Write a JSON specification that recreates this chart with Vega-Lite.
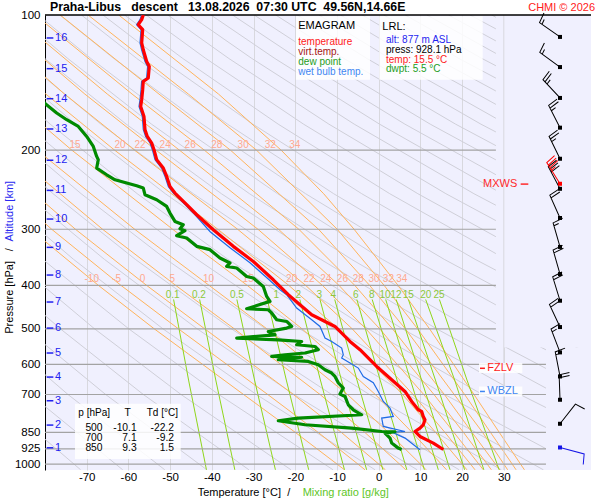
{
"$schema": "https://vega.github.io/schema/vega-lite/v6.json",
"width": 546, "height": 455,
"autosize": "none",
"padding": {"left": 45, "top": 15, "right": 9, "bottom": 30},
"background": "#ffffff",
"config": {"view": {"fill": "#f0f0fe", "stroke": null}, "font": "Liberation Sans"},
"resolve": {"axis": {"x": "independent", "y": "independent"}},
"datasets": {
"dry": [
{"th":200,"t":-71.45,"p":1030},{"th":200,"t":-92.55,"p":700},
{"th":210,"t":-61.37,"p":1030},{"th":210,"t":-83.52,"p":700},
{"th":220,"t":-51.28,"p":1030},{"th":220,"t":-74.49,"p":700},{"th":220,"t":-92.72,"p":500},
{"th":230,"t":-41.2,"p":1030},{"th":230,"t":-65.46,"p":700},{"th":230,"t":-84.55,"p":500},
{"th":240,"t":-31.11,"p":1030},{"th":240,"t":-56.43,"p":700},{"th":240,"t":-76.31,"p":500},{"th":240,"t":-95.4,"p":350},
{"th":250,"t":-21.03,"p":1030},{"th":250,"t":-47.39,"p":700},{"th":250,"t":-68.11,"p":500},{"th":250,"t":-87.99,"p":350},
{"th":260,"t":-10.94,"p":1030},{"th":260,"t":-38.36,"p":700},{"th":260,"t":-59.91,"p":500},{"th":260,"t":-80.58,"p":350},
{"th":270,"t":-0.86,"p":1030},{"th":270,"t":-29.33,"p":700},{"th":270,"t":-51.71,"p":500},{"th":270,"t":-73.17,"p":350},{"th":270,"t":-91.52,"p":250},
{"th":280,"t":9.23,"p":1030},{"th":280,"t":-20.3,"p":700},{"th":280,"t":-43.51,"p":500},{"th":280,"t":-65.77,"p":350},{"th":280,"t":-84.8,"p":250},
{"th":290,"t":19.31,"p":1030},{"th":290,"t":-11.27,"p":700},{"th":290,"t":-35.3,"p":500},{"th":290,"t":-58.36,"p":350},{"th":290,"t":-78.07,"p":250},{"th":290,"t":-96.99,"p":175},
{"th":300,"t":29.4,"p":1030},{"th":300,"t":-2.24,"p":700},{"th":300,"t":-27.1,"p":500},{"th":300,"t":-50.96,"p":350},{"th":300,"t":-71.34,"p":250},{"th":300,"t":-90.92,"p":175},
{"th":310,"t":39.48,"p":1030},{"th":310,"t":6.79,"p":700},{"th":310,"t":-18.9,"p":500},{"th":310,"t":-43.55,"p":350},{"th":310,"t":-64.62,"p":250},{"th":310,"t":-84.84,"p":175},
{"th":320,"t":49.57,"p":1030},{"th":320,"t":15.82,"p":700},{"th":320,"t":-10.7,"p":500},{"th":320,"t":-36.14,"p":350},{"th":320,"t":-57.89,"p":250},{"th":320,"t":-78.77,"p":175},{"th":320,"t":-96.6,"p":125},
{"th":330,"t":59.65,"p":1030},{"th":330,"t":24.85,"p":700},{"th":330,"t":-2.5,"p":500},{"th":330,"t":-28.74,"p":350},{"th":330,"t":-51.16,"p":250},{"th":330,"t":-72.69,"p":175},{"th":330,"t":-91.08,"p":125},
{"th":340,"t":69.74,"p":1030},{"th":340,"t":33.88,"p":700},{"th":340,"t":5.7,"p":500},{"th":340,"t":-21.33,"p":350},{"th":340,"t":-44.44,"p":250},{"th":340,"t":-66.62,"p":175},{"th":340,"t":-85.57,"p":125},
{"th":350,"t":79.82,"p":1030},{"th":350,"t":42.91,"p":700},{"th":350,"t":13.91,"p":500},{"th":350,"t":-13.92,"p":350},{"th":350,"t":-37.71,"p":250},{"th":350,"t":-60.54,"p":175},{"th":350,"t":-80.05,"p":125},{"th":350,"t":-91.98,"p":100},
{"th":360,"t":51.94,"p":700},{"th":360,"t":22.11,"p":500},{"th":360,"t":-6.52,"p":350},{"th":360,"t":-30.98,"p":250},{"th":360,"t":-54.47,"p":175},{"th":360,"t":-74.53,"p":125},{"th":360,"t":-86.8,"p":100},
{"th":370,"t":60.97,"p":700},{"th":370,"t":30.31,"p":500},{"th":370,"t":0.89,"p":350},{"th":370,"t":-24.25,"p":250},{"th":370,"t":-48.39,"p":175},{"th":370,"t":-69.01,"p":125},{"th":370,"t":-81.63,"p":100},
{"th":380,"t":70.0,"p":700},{"th":380,"t":38.51,"p":500},{"th":380,"t":8.3,"p":350},{"th":380,"t":-17.53,"p":250},{"th":380,"t":-42.32,"p":175},{"th":380,"t":-63.5,"p":125},{"th":380,"t":-76.45,"p":100},
{"th":390,"t":79.03,"p":700},{"th":390,"t":46.71,"p":500},{"th":390,"t":15.7,"p":350},{"th":390,"t":-10.8,"p":250},{"th":390,"t":-36.24,"p":175},{"th":390,"t":-57.98,"p":125},{"th":390,"t":-71.27,"p":100},
{"th":400,"t":54.91,"p":500},{"th":400,"t":23.11,"p":350},{"th":400,"t":-4.07,"p":250},{"th":400,"t":-30.17,"p":175},{"th":400,"t":-52.46,"p":125},{"th":400,"t":-66.1,"p":100},
{"th":410,"t":63.12,"p":500},{"th":410,"t":30.52,"p":350},{"th":410,"t":2.65,"p":250},{"th":410,"t":-24.1,"p":175},{"th":410,"t":-46.94,"p":125},{"th":410,"t":-60.92,"p":100},
{"th":420,"t":71.32,"p":500},{"th":420,"t":37.92,"p":350},{"th":420,"t":9.38,"p":250},{"th":420,"t":-18.02,"p":175},{"th":420,"t":-41.43,"p":125},{"th":420,"t":-55.75,"p":100},
{"th":430,"t":79.52,"p":500},{"th":430,"t":45.33,"p":350},{"th":430,"t":16.11,"p":250},{"th":430,"t":-11.95,"p":175},{"th":430,"t":-35.91,"p":125},{"th":430,"t":-50.57,"p":100},
{"th":440,"t":52.74,"p":350},{"th":440,"t":22.83,"p":250},{"th":440,"t":-5.87,"p":175},{"th":440,"t":-30.39,"p":125},{"th":440,"t":-45.39,"p":100},
{"th":450,"t":60.14,"p":350},{"th":450,"t":29.56,"p":250},{"th":450,"t":0.2,"p":175},{"th":450,"t":-24.88,"p":125},{"th":450,"t":-40.22,"p":100},
{"th":460,"t":67.55,"p":350},{"th":460,"t":36.29,"p":250},{"th":460,"t":6.28,"p":175},{"th":460,"t":-19.36,"p":125},{"th":460,"t":-35.04,"p":100},
{"th":470,"t":74.96,"p":350},{"th":470,"t":43.01,"p":250},{"th":470,"t":12.35,"p":175},{"th":470,"t":-13.84,"p":125},{"th":470,"t":-29.86,"p":100},
{"th":480,"t":49.74,"p":250},{"th":480,"t":18.43,"p":175},{"th":480,"t":-8.32,"p":125},{"th":480,"t":-24.69,"p":100},
{"th":490,"t":56.47,"p":250},{"th":490,"t":24.5,"p":175},{"th":490,"t":-2.81,"p":125},{"th":490,"t":-19.51,"p":100},
{"th":500,"t":63.2,"p":250},{"th":500,"t":30.58,"p":175},{"th":500,"t":2.71,"p":125},{"th":500,"t":-14.33,"p":100},
{"th":510,"t":69.92,"p":250},{"th":510,"t":36.65,"p":175},{"th":510,"t":8.23,"p":125},{"th":510,"t":-9.16,"p":100},
{"th":520,"t":42.72,"p":175},{"th":520,"t":13.74,"p":125},{"th":520,"t":-3.98,"p":100},
{"th":530,"t":48.8,"p":175},{"th":530,"t":19.26,"p":125},{"th":530,"t":1.19,"p":100},
{"th":540,"t":54.87,"p":175},{"th":540,"t":24.78,"p":125},{"th":540,"t":6.37,"p":100},
{"th":550,"t":60.95,"p":175},{"th":550,"t":30.3,"p":125},{"th":550,"t":11.55,"p":100},
{"th":560,"t":35.81,"p":125},{"th":560,"t":16.72,"p":100},
{"th":570,"t":41.33,"p":125},{"th":570,"t":21.9,"p":100},
{"th":580,"t":46.85,"p":125},{"th":580,"t":27.08,"p":100}
],
"moist": [
{"tw":-10,"t":-8.2,"p":1030},{"tw":-10,"t":-10,"p":1000},{"tw":-10,"t":-20,"p":850},{"tw":-10,"t":-32.4,"p":700},{"tw":-10,"t":-53.8,"p":500},{"tw":-10,"t":-67.2,"p":400},{"tw":-10,"t":-83.5,"p":300},
{"tw":-5,"t":-3.28,"p":1030},{"tw":-5,"t":-5,"p":1000},{"tw":-5,"t":-14.53,"p":850},{"tw":-5,"t":-26.6,"p":700},{"tw":-5,"t":-48.0,"p":500},{"tw":-5,"t":-61.8,"p":400},{"tw":-5,"t":-78.4,"p":300},{"tw":-5,"t":-99.7,"p":200},
{"tw":0,"t":1.61,"p":1030},{"tw":0,"t":0,"p":1000},{"tw":0,"t":-8.97,"p":850},{"tw":0,"t":-20.45,"p":700},{"tw":0,"t":-41.7,"p":500},{"tw":0,"t":-55.65,"p":400},{"tw":0,"t":-72.7,"p":300},{"tw":0,"t":-94.6,"p":200},
{"tw":5,"t":6.5,"p":1030},{"tw":5,"t":5,"p":1000},{"tw":5,"t":-3.34,"p":850},{"tw":5,"t":-14.06,"p":700},{"tw":5,"t":-34.6,"p":500},{"tw":5,"t":-48.67,"p":400},{"tw":5,"t":-66.2,"p":300},{"tw":5,"t":-88.8,"p":200},
{"tw":10,"t":11.38,"p":1030},{"tw":10,"t":10,"p":1000},{"tw":10,"t":2.33,"p":850},{"tw":10,"t":-7.49,"p":700},{"tw":10,"t":-26.8,"p":500},{"tw":10,"t":-40.66,"p":400},{"tw":10,"t":-58.5,"p":300},{"tw":10,"t":-81.9,"p":200},
{"tw":15,"t":16.26,"p":1030},{"tw":15,"t":15,"p":1000},{"tw":15,"t":8.0,"p":850},{"tw":15,"t":-0.81,"p":700},{"tw":15,"t":-18.36,"p":500},{"tw":15,"t":-31.53,"p":400},{"tw":15,"t":-49.4,"p":300},{"tw":15,"t":-73.56,"p":200},{"tw":15,"t":-89.3,"p":150},
{"tw":20,"t":21.15,"p":1030},{"tw":20,"t":20,"p":1000},{"tw":20,"t":13.63,"p":850},{"tw":20,"t":5.73,"p":700},{"tw":20,"t":-9.68,"p":500},{"tw":20,"t":-21.56,"p":400},{"tw":20,"t":-38.57,"p":300},{"tw":20,"t":-63.3,"p":200},{"tw":20,"t":-79.8,"p":150},{"tw":20,"t":-101,"p":100},
{"tw":22,"t":23.1,"p":1030},{"tw":22,"t":22,"p":1000},{"tw":22,"t":15.87,"p":850},{"tw":22,"t":8.24,"p":700},{"tw":22,"t":-6.34,"p":500},{"tw":22,"t":-17.52,"p":400},{"tw":22,"t":-33.83,"p":300},{"tw":22,"t":-58.53,"p":200},{"tw":22,"t":-75.3,"p":150},{"tw":22,"t":-97,"p":100},
{"tw":24,"t":25.08,"p":1030},{"tw":24,"t":24,"p":1000},{"tw":24,"t":18.02,"p":850},{"tw":24,"t":10.8,"p":700},{"tw":24,"t":-3.05,"p":500},{"tw":24,"t":-13.49,"p":400},{"tw":24,"t":-28.95,"p":300},{"tw":24,"t":-53.36,"p":200},{"tw":24,"t":-70.45,"p":150},{"tw":24,"t":-92.6,"p":100},
{"tw":26,"t":27.02,"p":1030},{"tw":26,"t":26,"p":1000},{"tw":26,"t":20.32,"p":850},{"tw":26,"t":13.25,"p":700},{"tw":26,"t":0.27,"p":500},{"tw":26,"t":-9.52,"p":400},{"tw":26,"t":-24.02,"p":300},{"tw":26,"t":-47.76,"p":200},{"tw":26,"t":-65.06,"p":150},{"tw":26,"t":-87.75,"p":100},
{"tw":28,"t":29.01,"p":1030},{"tw":28,"t":28,"p":1000},{"tw":28,"t":22.37,"p":850},{"tw":28,"t":15.75,"p":700},{"tw":28,"t":3.31,"p":500},{"tw":28,"t":-5.74,"p":400},{"tw":28,"t":-19.15,"p":300},{"tw":28,"t":-41.78,"p":200},{"tw":28,"t":-59.12,"p":150},{"tw":28,"t":-82.35,"p":100},
{"tw":30,"t":30.92,"p":1030},{"tw":30,"t":30,"p":1000},{"tw":30,"t":24.9,"p":850},{"tw":30,"t":18.1,"p":700},{"tw":30,"t":6.4,"p":500},{"tw":30,"t":-2.18,"p":400},{"tw":30,"t":-14.43,"p":300},{"tw":30,"t":-35.53,"p":200},{"tw":30,"t":-52.67,"p":150},{"tw":30,"t":-76.36,"p":100},
{"tw":32,"t":32.94,"p":1030},{"tw":32,"t":32,"p":1000},{"tw":32,"t":26.8,"p":850},{"tw":32,"t":20.6,"p":700},{"tw":32,"t":9.33,"p":500},{"tw":32,"t":1.3,"p":400},{"tw":32,"t":-9.94,"p":300},{"tw":32,"t":-29.29,"p":200},{"tw":32,"t":-45.63,"p":150},{"tw":32,"t":-69.67,"p":100},
{"tw":34,"t":34.94,"p":1030},{"tw":34,"t":34,"p":1000},{"tw":34,"t":28.9,"p":850},{"tw":34,"t":22.85,"p":700},{"tw":34,"t":12.2,"p":500},{"tw":34,"t":4.64,"p":400},{"tw":34,"t":-5.9,"p":300},{"tw":34,"t":-13.2,"p":250},{"tw":34,"t":-23.38,"p":200},{"tw":34,"t":-38.4,"p":150},{"tw":34,"t":-62.33,"p":100}
],
"mix": [
{"w":0.1,"t":-49.17,"p":430},{"w":0.1,"t":-45.58,"p":650},{"w":0.1,"t":-41.29,"p":1030},
{"w":0.2,"t":-42.92,"p":430},{"w":0.2,"t":-39.06,"p":650},{"w":0.2,"t":-34.49,"p":1030},
{"w":0.5,"t":-34.0,"p":430},{"w":0.5,"t":-29.76,"p":650},{"w":0.5,"t":-24.76,"p":1030},
{"w":1,"t":-26.71,"p":430},{"w":1,"t":-22.15,"p":650},{"w":1,"t":-16.78,"p":1030},
{"w":2,"t":-18.91,"p":430},{"w":2,"t":-13.98,"p":650},{"w":2,"t":-8.2,"p":1030},
{"w":3,"t":-14.08,"p":430},{"w":3,"t":-8.93,"p":650},{"w":3,"t":-2.89,"p":1030},
{"w":4,"t":-10.54,"p":430},{"w":4,"t":-5.21,"p":650},{"w":4,"t":1.02,"p":1030},
{"w":6,"t":-5.24,"p":430},{"w":6,"t":0.35,"p":650},{"w":6,"t":6.75,"p":1030},
{"w":8,"t":-1.56,"p":430},{"w":8,"t":4.39,"p":650},{"w":8,"t":10.96,"p":1030},
{"w":10,"t":1.68,"p":430},{"w":10,"t":7.62,"p":650},{"w":10,"t":14.3,"p":1030},
{"w":12,"t":4.2,"p":430},{"w":12,"t":10.28,"p":650},{"w":12,"t":17.11,"p":1030},
{"w":15,"t":7.12,"p":430},{"w":15,"t":13.6,"p":650},{"w":15,"t":20.6,"p":1030},
{"w":20,"t":11.26,"p":430},{"w":20,"t":18.21,"p":650},{"w":20,"t":25.21,"p":1030},
{"w":25,"t":14.55,"p":430},{"w":25,"t":21.17,"p":650},{"w":25,"t":28.88,"p":1030}
],
"moistLabels": [
{"label":"15","t":-72.8,"p":194.5},{"label":"20","t":-62.0,"p":194.5},{"label":"22","t":-57.2,"p":194.5},{"label":"24","t":-51.2,"p":194.5},{"label":"26","t":-45.2,"p":194.5},{"label":"28","t":-38.8,"p":194.5},{"label":"30","t":-32.5,"p":194.5},{"label":"32","t":-26.0,"p":194.5},{"label":"34","t":-20.1,"p":194.5},
{"label":"-10","t":-68.8,"p":387.3},{"label":"-5","t":-62.8,"p":387.3},{"label":"0","t":-56.6,"p":387.3},{"label":"5","t":-49.5,"p":387.3},{"label":"10","t":-40.8,"p":387.3},{"label":"15","t":-31.3,"p":387.3},{"label":"20","t":-20.86,"p":387.3},{"label":"22","t":-16.7,"p":387.3},{"label":"24","t":-12.7,"p":387.3},{"label":"26","t":-8.7,"p":387.3},{"label":"28","t":-4.9,"p":387.3},{"label":"30","t":-1.13,"p":387.3},{"label":"32","t":2.33,"p":387.3},{"label":"34","t":5.54,"p":387.3}
],
"mixLabels": [
{"label":"0.1","t":-49.4,"p":419.6},{"label":"0.2","t":-43.1,"p":419.6},{"label":"0.5","t":-34.0,"p":419.6},{"label":"1","t":-24.55,"p":419.6},{"label":"2","t":-19.28,"p":419.6},{"label":"3","t":-14.24,"p":419.6},{"label":"4","t":-10.88,"p":419.6},{"label":"6","t":-5.5,"p":419.6},{"label":"8","t":-1.68,"p":419.6},{"label":"10","t":1.51,"p":419.6},{"label":"12","t":4.15,"p":419.6},{"label":"15","t":7.1,"p":419.6},{"label":"20","t":11.27,"p":419.6},{"label":"25","t":14.46,"p":419.6}
],
"temp": [
{"t":-56.44,"p":100},{"t":-56.82,"p":102.4},{"t":-57.64,"p":105.1},{"t":-56.58,"p":107.8},{"t":-56.82,"p":115.4},{"t":-56.44,"p":119.5},{"t":-55.62,"p":126.9},{"t":-55.0,"p":130.2},{"t":-55.24,"p":138.1},{"t":-56.44,"p":140.6},{"t":-56.58,"p":146.7},{"t":-56.82,"p":154.4},{"t":-57.06,"p":159.8},{"t":-56.27,"p":168.2},{"t":-56.03,"p":180.0},{"t":-55.48,"p":186.4},{"t":-54.42,"p":192.8},{"t":-53.87,"p":199.5},{"t":-53.22,"p":210.1},{"t":-51.64,"p":219.2},{"t":-50.83,"p":228.8},{"t":-50.04,"p":240.9},{"t":-48.84,"p":249.2},{"t":-46.03,"p":264.5},{"t":-43.63,"p":278.5},{"t":-39.65,"p":300.8},{"t":-34.86,"p":327.5},{"t":-30.06,"p":353.9},{"t":-25.27,"p":388.7},{"t":-21.67,"p":419.7},{"t":-16.06,"p":465.2},{"t":-10.48,"p":493.9},{"t":-9.28,"p":506.7},{"t":-6.88,"p":533.4},{"t":-4.48,"p":556.4},{"t":-1.68,"p":590.9},{"t":-0.48,"p":606.3},{"t":3.12,"p":649.2},{"t":6.31,"p":689.2},{"t":7.91,"p":725.5},{"t":9.49,"p":757},{"t":10.31,"p":763.7},{"t":10.69,"p":783.5},{"t":11.1,"p":796.9},{"t":10.69,"p":817.6},{"t":9.9,"p":831.6},{"t":8.7,"p":846.2},{"t":9.9,"p":868.2},{"t":13.09,"p":898.1},{"t":15.5,"p":928.1}
],
"dew": [
{"t":-82,"p":150},{"t":-79.93,"p":157.6},{"t":-77.2,"p":165.3},{"t":-74.8,"p":171.1},{"t":-72.02,"p":177.1},{"t":-70.01,"p":186.4},{"t":-68.42,"p":196.2},{"t":-67.61,"p":206.5},{"t":-67.23,"p":210.1},{"t":-67.61,"p":219.2},{"t":-65.21,"p":226.9},{"t":-63.22,"p":232.8},{"t":-60.42,"p":236.7},{"t":-58.02,"p":240.0},{"t":-56.44,"p":242.9},{"t":-56.03,"p":251.3},{"t":-53.22,"p":257.9},{"t":-50.83,"p":266.9},{"t":-50.04,"p":276.1},{"t":-48.84,"p":288.2},{"t":-46.85,"p":293.1},{"t":-47.64,"p":299.2},{"t":-46.44,"p":302.3},{"t":-48.43,"p":310.1},{"t":-46.03,"p":313.8},{"t":-43.63,"p":327.5},{"t":-40.45,"p":333.1},{"t":-38.05,"p":347.6},{"t":-35.65,"p":356.6},{"t":-36.44,"p":362.9},{"t":-34.04,"p":365.9},{"t":-31.65,"p":382.2},{"t":-30.06,"p":385.3},{"t":-27.67,"p":402.3},{"t":-26.85,"p":423.4},{"t":-26.06,"p":434.3},{"t":-31.65,"p":451.0},{"t":-26.47,"p":453.3},{"t":-25.65,"p":460.9},{"t":-24.45,"p":477.2},{"t":-22.06,"p":481.4},{"t":-20.86,"p":493.9},{"t":-22.06,"p":498.0},{"t":-26.47,"p":506.7},{"t":-24.86,"p":515.4},{"t":-34.04,"p":524.2},{"t":-24.07,"p":528.8},{"t":-18.46,"p":533.4},{"t":-19.66,"p":542.5},{"t":-15.27,"p":547.3},{"t":-14.48,"p":556.4},{"t":-17.67,"p":565.9},{"t":-22.46,"p":570.9},{"t":-25.65,"p":575.9},{"t":-18.46,"p":578.3},{"t":-24.07,"p":585.7},{"t":-16.88,"p":590.9},{"t":-14.48,"p":600.9},{"t":-12.87,"p":616.6},{"t":-11.27,"p":627.1},{"t":-10.48,"p":638.2},{"t":-9.69,"p":659.1},{"t":-8.49,"p":677.3},{"t":-9.28,"p":698.5},{"t":-8.08,"p":707.1},{"t":-7.29,"p":737.9},{"t":-6.09,"p":757.0},{"t":-4.08,"p":776.7},{"t":-19.28,"p":790.0},{"t":-24.07,"p":801.0},{"t":-17.67,"p":817.6},{"t":-6.47,"p":831.6},{"t":0.72,"p":846.2},{"t":3.91,"p":847.5},{"t":1.51,"p":853.2},{"t":2.71,"p":875.4},{"t":3.12,"p":898.1},{"t":4.7,"p":921.5},{"t":5.5,"p":928.1}
],
"wet": [
{"t":-56.84,"p":100},{"t":-57.22,"p":102.4},{"t":-58.04,"p":105.1},{"t":-56.98,"p":107.8},{"t":-57.22,"p":115.4},{"t":-56.84,"p":119.5},{"t":-56.02,"p":126.9},{"t":-55.4,"p":130.2},{"t":-55.64,"p":138.1},{"t":-56.84,"p":140.6},{"t":-56.98,"p":146.7},{"t":-57.22,"p":154.4},{"t":-57.46,"p":159.8},{"t":-56.67,"p":168.2},{"t":-56.43,"p":180},{"t":-55.88,"p":186.4},{"t":-54.82,"p":192.8},{"t":-54.27,"p":199.5},{"t":-53.62,"p":210.1},{"t":-52.04,"p":219.2},{"t":-51.23,"p":228.8},{"t":-50.44,"p":240.9},{"t":-49.24,"p":249.2},{"t":-46.43,"p":264.5},{"t":-44.03,"p":278.5},{"t":-40.4,"p":303.9},{"t":-35.65,"p":329.7},{"t":-30.86,"p":356.3},{"t":-26.54,"p":386.7},{"t":-23.66,"p":409.2},{"t":-22.06,"p":419.7},{"t":-19.66,"p":449.4},{"t":-16.06,"p":477.2},{"t":-14.07,"p":493.9},{"t":-12.87,"p":524.2},{"t":-11.27,"p":533.4},{"t":-8.87,"p":551.6},{"t":-8.49,"p":570.9},{"t":-8.87,"p":580.7},{"t":-6.88,"p":595.8},{"t":-4.89,"p":611.3},{"t":-3.69,"p":638.2},{"t":-1.29,"p":659.1},{"t":-0.1,"p":689.2},{"t":1.1,"p":725.5},{"t":2.71,"p":750.5},{"t":3.5,"p":783.5},{"t":0.72,"p":790.0},{"t":1.1,"p":824.7},{"t":6.31,"p":846.2},{"t":3.12,"p":848.8},{"t":6.31,"p":875.4},{"t":9.9,"p":929.6}
],
"alt": [
{"km":"16","p":112.5},{"km":"15","p":131.7},{"km":"14","p":153.6},{"km":"13","p":179.4},{"km":"12","p":210.6},{"km":"11","p":245.8},{"km":"10","p":284.7},{"km":"9","p":329.2},{"km":"8","p":379.4},{"km":"7","p":435.7},{"km":"6","p":498.0},{"km":"5","p":565.9},{"km":"4","p":640.2},{"km":"3","p":722.9},{"km":"2","p":818.9},{"km":"1","p":920.1}
],
"boxes": [
{"t1":-19.83,"t2":-2.09,"p1":100.7,"p2":139.3},
{"t1":0.14,"t2":24.93,"p1":100.7,"p2":139.3},
{"t1":-72.81,"t2":-47.47,"p1":734.3,"p2":975.0},
{"t1":24.05,"t2":34.43,"p1":596,"p2":627},
{"t1":24.05,"t2":34.43,"p1":671.7,"p2":707.1}
],
"notes": [
{"label":"temperature","t":-19.28,"p":116.5,"kind":"temp"},
{"label":"virt.temp.","t":-19.28,"p":122.6,"kind":"virt"},
{"label":"dew point","t":-19.28,"p":129.1,"kind":"dew"},
{"label":"wet bulb temp.","t":-19.28,"p":135.8,"kind":"wet"},
{"label":"alt: 877 m ASL","t":1.75,"p":115.4,"kind":"alt"},
{"label":"press: 928.1 hPa","t":1.75,"p":121.5,"kind":"plain"},
{"label":"temp: 15.5 °C","t":1.75,"p":127.9,"kind":"temp"},
{"label":"dwpt: 5.5 °C","t":1.75,"p":134.2,"kind":"dew"},
{"label":"p [hPa]","t":-72.02,"p":781,"kind":"plain"},
{"label":"Td [°C]","t":-55.62,"p":781,"kind":"plain"}
],
"heads": [
{"label":"EMAGRAM","t":-19.28,"p":107.6},
{"label":"LRL:","t":0.87,"p":107.8}
],
"tableCenter": [
{"label":"T","t":-60.18,"p":781},
{"label":"500","t":-68.26,"p":843.2},{"label":"700","t":-68.26,"p":887.6},{"label":"850","t":-68.26,"p":933.4}
],
"tableRight": [
{"label":"-10.1","t":-58.02,"p":843.2},{"label":"7.1","t":-58.02,"p":887.6},{"label":"9.3","t":-58.02,"p":933.4},
{"label":"-22.2","t":-49.08,"p":843.2},{"label":"-9.2","t":-49.08,"p":887.6},{"label":"1.5","t":-49.08,"p":933.4}
],
"levels": [
{"label":"FZLV","p":612,"kind":"temp"},
{"label":"WBZL","p":689.2,"kind":"wet"}
],
"wind": [
{"p":111.9,"dir":305,"spd":15,"kind":"wind"},
{"p":130.6,"dir":306,"spd":15,"kind":"wind"},
{"p":153.0,"dir":317,"spd":25,"kind":"wind"},
{"p":178.2,"dir":333,"spd":25,"kind":"wind"},
{"p":209.0,"dir":334,"spd":25,"kind":"wind"},
{"p":243.8,"dir":332,"spd":30,"kind":"wind"},
{"p":237.6,"dir":328,"spd":35,"kind":"max"},
{"p":283.2,"dir":336,"spd":20,"kind":"wind"},
{"p":328.5,"dir":344,"spd":15,"kind":"wind"},
{"p":377.5,"dir":344,"spd":20,"kind":"wind"},
{"p":432.8,"dir":343,"spd":20,"kind":"wind"},
{"p":495.4,"dir":335,"spd":20,"kind":"wind"},
{"p":564.1,"dir":339,"spd":15,"kind":"wind"},
{"p":638.2,"dir":349,"spd":15,"kind":"wind"},
{"p":719.2,"dir":358,"spd":20,"kind":"wind"},
{"p":813.4,"dir":38,"spd":10,"kind":"wind"},
{"p":918.6,"dir":105,"spd":10,"kind":"surface"}
]
},
"layer": [
{"data": {"name": "dry"}, "mark": {"type": "line", "clip": true, "color": "#cfcfd8", "strokeWidth": 1},
 "encoding": {
  "x": {"field": "t", "type": "quantitative", "scale": {"domain": [-80, 50.9], "nice": false, "zero": false},
        "axis": {"orient": "bottom", "values": [-70,-60,-50,-40,-30,-20,-10,0,10,20,30], "labelExpr": "'' + datum.value", "grid": true, "gridColor": "#d8d8de", "gridWidth": 1, "ticks": false, "domain": false, "labelFont": "Liberation Sans", "labelFontSize": 11.5, "labelColor": "#000000", "labelPadding": 1, "title": null, "labelFlush": false, "labelOverlap": false}},
  "y": {"field": "p", "type": "quantitative", "scale": {"type": "log", "domain": [100, 1031], "reverse": true, "nice": false},
        "axis": {"orient": "left", "values": [100,200,300,400,500,600,700,850,925,1000], "labelExpr": "'' + datum.value", "grid": false, "ticks": false, "domain": true, "domainColor": "#000000", "domainWidth": 1, "labelFont": "Liberation Sans", "labelFontSize": 11.5, "labelColor": "#000000", "labelPadding": 5, "title": null, "labelOverlap": false}},
  "detail": {"field": "th", "type": "nominal"},
  "order": {"value": null}
 }},
{"data": {"name": "moist"}, "mark": {"type": "line", "clip": true, "color": "#ffb45c", "strokeWidth": 1},
 "encoding": {"x": {"field": "t", "type": "quantitative", "axis": null}, "y": {"field": "p", "type": "quantitative", "scale": {"type": "log"}, "axis": null},
  "detail": {"field": "tw", "type": "nominal"}, "order": {"value": null}}},
{"data": {"name": "mix"}, "mark": {"type": "line", "clip": true, "color": "#8fd61a", "strokeWidth": 1},
 "encoding": {"x": {"field": "t", "type": "quantitative", "axis": null}, "y": {"field": "p", "type": "quantitative", "scale": {"type": "log"}, "axis": null},
  "detail": {"field": "w", "type": "nominal"}, "order": {"value": null}}},
{"data": {"values": [{}]}, "mark": {"type": "rect", "color": "#f0f0fe"},
 "encoding": {"x": {"datum": 28.1, "type": "quantitative", "axis": null}, "x2": {"datum": 50.9}, "y": {"datum": 100, "type": "quantitative", "scale": {"type": "log"}, "axis": null}, "y2": {"datum": 550}}},
{"data": {"values": [{}]}, "mark": {"type": "rect", "color": "#f0f0fe"},
 "encoding": {"x": {"datum": 40.1, "type": "quantitative", "axis": null}, "x2": {"datum": 50.9}, "y": {"datum": 550, "type": "quantitative", "scale": {"type": "log"}, "axis": null}, "y2": {"datum": 1031}}},
{"data": {"values": [{}]}, "mark": {"type": "rule", "color": "#d8d8de", "strokeWidth": 1},
 "encoding": {"x": {"datum": 30, "type": "quantitative", "axis": null}, "y": {"datum": 100, "type": "quantitative", "scale": {"type": "log"}, "axis": null}, "y2": {"datum": 1031}}},
{"data": {"values": [{"p": 200}, {"p": 300}, {"p": 400}, {"p": 500}]}, "mark": {"type": "rule", "color": "#a3a3a3", "strokeWidth": 1.2},
 "encoding": {"x": {"datum": -80, "type": "quantitative", "axis": null}, "x2": {"datum": 28.1}, "y": {"field": "p", "type": "quantitative", "scale": {"type": "log"}, "axis": null}}},
{"data": {"values": [{"p": 600}, {"p": 700}, {"p": 850}, {"p": 925}, {"p": 1000}]}, "mark": {"type": "rule", "color": "#a3a3a3", "strokeWidth": 1.2},
 "encoding": {"x": {"datum": -80, "type": "quantitative", "axis": null}, "x2": {"datum": 40.1}, "y": {"field": "p", "type": "quantitative", "scale": {"type": "log"}, "axis": null}}},
{"data": {"values": [{}]}, "mark": {"type": "rule", "color": "#000000", "strokeWidth": 1.3},
 "encoding": {"x": {"datum": -80, "type": "quantitative", "axis": null}, "x2": {"datum": 50.9}, "y": {"datum": 100, "type": "quantitative", "scale": {"type": "log"}, "axis": null}}},
{"data": {"name": "moistLabels"}, "mark": {"type": "text", "align": "center", "baseline": "middle", "color": "#ffa98f", "fontSize": 10, "font": "Liberation Sans"},
 "encoding": {"x": {"field": "t", "type": "quantitative", "axis": null}, "y": {"field": "p", "type": "quantitative", "scale": {"type": "log"}, "axis": null}, "text": {"field": "label"}}},
{"data": {"name": "mixLabels"}, "mark": {"type": "text", "align": "center", "baseline": "middle", "color": "#8cc83a", "fontSize": 10, "font": "Liberation Sans"},
 "encoding": {"x": {"field": "t", "type": "quantitative", "axis": null}, "y": {"field": "p", "type": "quantitative", "scale": {"type": "log"}, "axis": null}, "text": {"field": "label"}}},
{"data": {"name": "boxes"}, "mark": {"type": "rect", "color": "#ffffff", "opacity": 0.85},
 "encoding": {"x": {"field": "t1", "type": "quantitative", "axis": null}, "x2": {"field": "t2"}, "y": {"field": "p1", "type": "quantitative", "scale": {"type": "log"}, "axis": null}, "y2": {"field": "p2"}}},
{"data": {"name": "wet"}, "mark": {"type": "line", "clip": true, "color": "#1e6be6", "strokeWidth": 1.2},
 "encoding": {"x": {"field": "t", "type": "quantitative", "axis": null}, "y": {"field": "p", "type": "quantitative", "scale": {"type": "log"}, "axis": null}, "order": {"value": null}}},
{"data": {"name": "dew"}, "mark": {"type": "line", "clip": true, "color": "#008a00", "strokeWidth": 3.2, "strokeJoin": "round"},
 "encoding": {"x": {"field": "t", "type": "quantitative", "axis": null}, "y": {"field": "p", "type": "quantitative", "scale": {"type": "log"}, "axis": null}, "order": {"value": null}}},
{"data": {"name": "temp"}, "mark": {"type": "line", "clip": true, "color": "#ff0000", "strokeWidth": 3.2, "strokeJoin": "round"},
 "encoding": {"x": {"field": "t", "type": "quantitative", "axis": null}, "y": {"field": "p", "type": "quantitative", "scale": {"type": "log"}, "axis": null}, "order": {"value": null}}},
{"data": {"name": "alt"}, "mark": {"type": "rule", "color": "#2020f0", "strokeWidth": 1.5},
 "encoding": {"x": {"datum": -79.6, "type": "quantitative", "axis": null}, "x2": {"datum": -78.0}, "y": {"field": "p", "type": "quantitative", "scale": {"type": "log"}, "axis": null}}},
{"data": {"name": "alt"}, "mark": {"type": "text", "align": "left", "baseline": "middle", "color": "#2020f0", "fontSize": 11, "font": "Liberation Sans"},
 "encoding": {"x": {"datum": -77.6, "type": "quantitative", "axis": null}, "y": {"field": "p", "type": "quantitative", "scale": {"type": "log"}, "axis": null}, "text": {"field": "km"}}},
{"data": {"name": "notes"}, "mark": {"type": "text", "align": "left", "baseline": "alphabetic", "fontSize": 10, "font": "Liberation Sans"},
 "encoding": {"x": {"field": "t", "type": "quantitative", "axis": null}, "y": {"field": "p", "type": "quantitative", "scale": {"type": "log"}, "axis": null}, "text": {"field": "label"},
  "color": {"field": "kind", "type": "nominal", "legend": null, "scale": {"domain": ["plain","temp","virt","dew","wet","alt","wind","max","surface"], "range": ["#000000","#ff1a1a","#a31515","#1c9c1c","#3f86f2","#1f1ff0","#000000","#ff0000","#1515e6"]}}}},
{"data": {"name": "heads"}, "mark": {"type": "text", "align": "left", "baseline": "alphabetic", "fontSize": 11, "font": "Liberation Sans", "color": "#000000"},
 "encoding": {"x": {"field": "t", "type": "quantitative", "axis": null}, "y": {"field": "p", "type": "quantitative", "scale": {"type": "log"}, "axis": null}, "text": {"field": "label"}}},
{"data": {"name": "tableCenter"}, "mark": {"type": "text", "align": "center", "baseline": "alphabetic", "fontSize": 10.3, "font": "Liberation Sans", "color": "#000000"},
 "encoding": {"x": {"field": "t", "type": "quantitative", "axis": null}, "y": {"field": "p", "type": "quantitative", "scale": {"type": "log"}, "axis": null}, "text": {"field": "label"}}},
{"data": {"name": "tableRight"}, "mark": {"type": "text", "align": "right", "baseline": "alphabetic", "fontSize": 10.3, "font": "Liberation Sans", "color": "#000000"},
 "encoding": {"x": {"field": "t", "type": "quantitative", "axis": null}, "y": {"field": "p", "type": "quantitative", "scale": {"type": "log"}, "axis": null}, "text": {"field": "label"}}},
{"data": {"values": [{}]}, "mark": {"type": "text", "align": "right", "baseline": "middle", "fontSize": 11, "font": "Liberation Sans", "color": "#ff2a2a"},
 "encoding": {"x": {"datum": 33.23, "type": "quantitative", "axis": null}, "y": {"datum": 238, "type": "quantitative", "scale": {"type": "log"}, "axis": null}, "text": {"value": "MXWS"}}},
{"data": {"values": [{}]}, "mark": {"type": "rule", "color": "#ff2a2a", "strokeWidth": 1.5},
 "encoding": {"x": {"datum": 34.04, "type": "quantitative", "axis": null}, "x2": {"datum": 35.87}, "y": {"datum": 238, "type": "quantitative", "scale": {"type": "log"}, "axis": null}}},
{"data": {"name": "levels"}, "mark": {"type": "rule", "strokeWidth": 1.5},
 "encoding": {"x": {"datum": 24.29, "type": "quantitative", "axis": null}, "x2": {"datum": 25.47}, "y": {"field": "p", "type": "quantitative", "scale": {"type": "log"}, "axis": null},
  "color": {"field": "kind", "type": "nominal", "legend": null, "scale": {"domain": ["plain","temp","virt","dew","wet","alt","wind","max","surface"], "range": ["#000000","#ff1a1a","#a31515","#1c9c1c","#3f86f2","#1f1ff0","#000000","#ff0000","#1515e6"]}}}},
{"data": {"name": "levels"}, "mark": {"type": "text", "align": "left", "baseline": "middle", "fontSize": 11, "font": "Liberation Sans"},
 "encoding": {"x": {"datum": 26.04, "type": "quantitative", "axis": null}, "y": {"field": "p", "type": "quantitative", "scale": {"type": "log"}, "axis": null}, "text": {"field": "label"},
  "color": {"field": "kind", "type": "nominal", "legend": null, "scale": {"domain": ["plain","temp","virt","dew","wet","alt","wind","max","surface"], "range": ["#000000","#ff1a1a","#a31515","#1c9c1c","#3f86f2","#1f1ff0","#000000","#ff0000","#1515e6"]}}}},
{"data": {"name": "wind"}, "mark": {"type": "point", "filled": false, "size": 2500, "strokeWidth": 1, "opacity": 1},
 "encoding": {
  "x": {"datum": 43.47, "type": "quantitative", "axis": null},
  "y": {"field": "p", "type": "quantitative", "scale": {"type": "log"}, "axis": null},
  "shape": {"field": "spd", "type": "ordinal", "legend": null, "scale": {"domain": [10,15,20,25,30,35], "range": [
    "M0,0L0,-1L0.414,-1.073",
    "M0,0L0,-1L0.414,-1.073M0,-0.88L0.207,-0.916",
    "M0,0L0,-1L0.414,-1.073M0,-0.88L0.414,-0.953",
    "M0,0L0,-1L0.414,-1.073M0,-0.88L0.414,-0.953M0,-0.76L0.207,-0.796",
    "M0,0L0,-1L0.414,-1.073M0,-0.88L0.414,-0.953M0,-0.76L0.414,-0.833",
    "M0,0L0,-1L0.414,-1.073M0,-0.88L0.414,-0.953M0,-0.76L0.414,-0.833M0,-0.64L0.207,-0.676"]}},
  "angle": {"field": "dir", "type": "quantitative", "scale": {"domain": [0, 360], "range": [0, 360]}},
  "color": {"field": "kind", "type": "nominal", "legend": null, "scale": {"domain": ["plain","temp","virt","dew","wet","alt","wind","max","surface"], "range": ["#000000","#ff1a1a","#a31515","#1c9c1c","#3f86f2","#1f1ff0","#000000","#ff0000","#1515e6"]}}
 }},
{"data": {"name": "wind"}, "mark": {"type": "square", "size": 16, "filled": true, "opacity": 1},
 "encoding": {"x": {"datum": 43.47, "type": "quantitative", "axis": null}, "y": {"field": "p", "type": "quantitative", "scale": {"type": "log"}, "axis": null},
  "color": {"field": "kind", "type": "nominal", "legend": null, "scale": {"domain": ["plain","temp","virt","dew","wet","alt","wind","max","surface"], "range": ["#000000","#ff1a1a","#a31515","#1c9c1c","#3f86f2","#1f1ff0","#000000","#ff0000","#1515e6"]}}}},
{"data": {"values": [{}]}, "mark": {"type": "text", "align": "left", "baseline": "alphabetic", "fontSize": 11, "font": "Liberation Sans", "color": "#000000"},
 "encoding": {"x": {"datum": -43.39, "type": "quantitative", "axis": null}, "y": {"datum": 1180.6, "type": "quantitative", "scale": {"type": "log"}, "axis": null}, "text": {"value": "Temperature [°C]"}}},
{"data": {"values": [{}]}, "mark": {"type": "text", "align": "center", "baseline": "alphabetic", "fontSize": 11, "font": "Liberation Sans", "color": "#000000"},
 "encoding": {"x": {"datum": -21.58, "type": "quantitative", "axis": null}, "y": {"datum": 1180.6, "type": "quantitative", "scale": {"type": "log"}, "axis": null}, "text": {"value": "/"}}},
{"data": {"values": [{}]}, "mark": {"type": "text", "align": "left", "baseline": "alphabetic", "fontSize": 11, "font": "Liberation Sans", "color": "#5ec628"},
 "encoding": {"x": {"datum": -18.22, "type": "quantitative", "axis": null}, "y": {"datum": 1180.6, "type": "quantitative", "scale": {"type": "log"}, "axis": null}, "text": {"value": "Mixing ratio [g/kg]"}}},
{"data": {"values": [{}]}, "mark": {"type": "text", "align": "left", "baseline": "alphabetic", "angle": 270, "fontSize": 11, "font": "Liberation Sans", "color": "#000000"},
 "encoding": {"x": {"datum": -87.79, "type": "quantitative", "axis": null}, "y": {"datum": 512.6, "type": "quantitative", "scale": {"type": "log"}, "axis": null}, "text": {"value": "Pressure [hPa]"}}},
{"data": {"values": [{}]}, "mark": {"type": "text", "align": "center", "baseline": "alphabetic", "angle": 270, "fontSize": 11, "font": "Liberation Sans", "color": "#000000"},
 "encoding": {"x": {"datum": -87.79, "type": "quantitative", "axis": null}, "y": {"datum": 333.2, "type": "quantitative", "scale": {"type": "log"}, "axis": null}, "text": {"value": "/"}}},
{"data": {"values": [{}]}, "mark": {"type": "text", "align": "left", "baseline": "alphabetic", "angle": 270, "fontSize": 11, "font": "Liberation Sans", "color": "#2a2af0"},
 "encoding": {"x": {"datum": -87.79, "type": "quantitative", "axis": null}, "y": {"datum": 319.3, "type": "quantitative", "scale": {"type": "log"}, "axis": null}, "text": {"value": "Altitude [km]"}}},
{"data": {"values": [{}]}, "mark": {"type": "text", "align": "right", "baseline": "alphabetic", "fontSize": 11, "font": "Liberation Sans", "color": "#ff2020"},
 "encoding": {"x": {"datum": 51.86, "type": "quantitative", "axis": null}, "y": {"datum": 97.8, "type": "quantitative", "scale": {"type": "log"}, "axis": null}, "text": {"value": "CHMI © 2026"}}},
{"data": {"values": [{}]}, "mark": {"type": "text", "align": "left", "baseline": "alphabetic", "fontSize": 12.3, "fontWeight": "bold", "font": "Liberation Sans", "color": "#000000"},
 "encoding": {"x": {"datum": -78.81, "type": "quantitative", "axis": null}, "y": {"datum": 98.17, "type": "quantitative", "scale": {"type": "log"}, "axis": null}, "text": {"value": "Praha-Libus\u00a0\u00a0 descent\u00a0\u00a0 13.08.2026\u00a0 07:30 UTC\u00a0 49.56N,14.66E"}}}
]
}
